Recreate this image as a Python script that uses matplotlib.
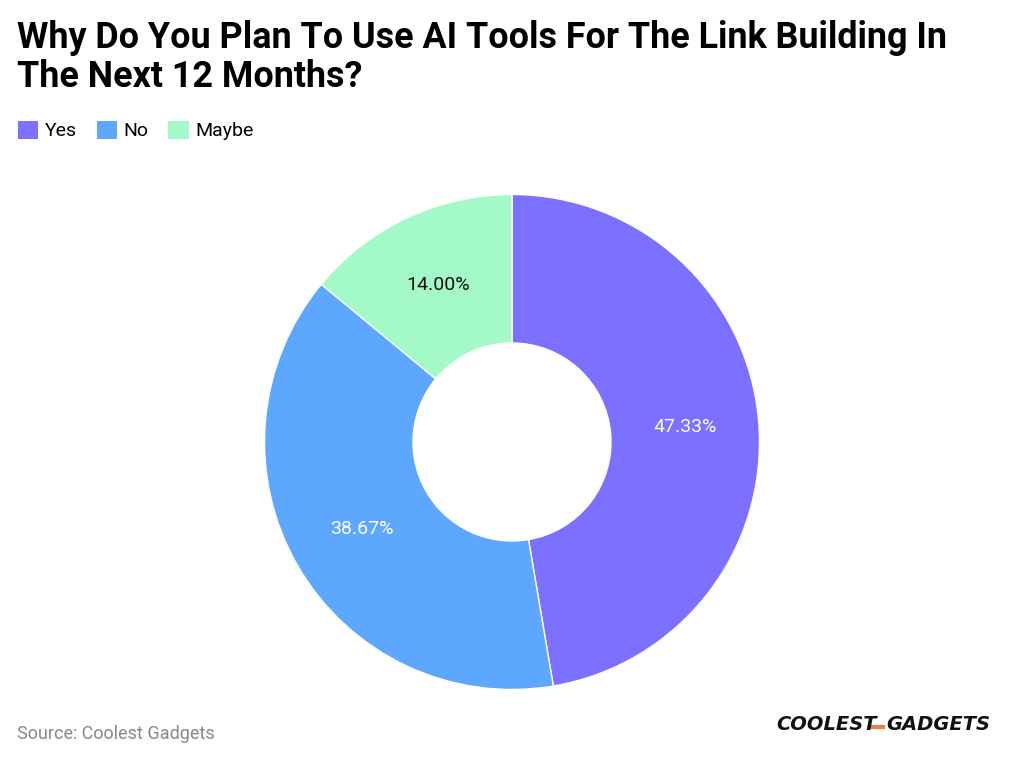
import matplotlib.pyplot as plt
from matplotlib.lines import Line2D
from matplotlib.patches import Patch

labels = ['Yes', 'No', 'Maybe']
values = [47.33, 38.67, 14.00]
colors = ['#7B70FF', '#5EA7FF', '#A3FAC8']
label_colors = ['white', 'white', '#111111']

plt.rcParams['font.family'] = ['Roboto', 'DejaVu Sans']

fig = plt.figure(figsize=(10.24, 7.6), dpi=100)

# donut, centre at (512, 442) px from top-left, radius ~247 px
ax = fig.add_axes([(512 - 250) / 1024, (318 - 250) / 760, 500 / 1024, 500 / 760])
wedges, texts, autotexts = ax.pie(
    values, colors=colors, startangle=90, counterclock=False,
    autopct='%.2f%%', pctdistance=0.70,
    wedgeprops=dict(width=0.6, edgecolor='white', linewidth=1),
    textprops=dict(fontsize=14),
)
for t, c in zip(autotexts, label_colors):
    t.set_color(c)
ax.set_xlim(-250 / 247.5, 250 / 247.5)
ax.set_ylim(-250 / 247.5, 250 / 247.5)
ax.set_aspect('equal')
ax.axis('off')

fig.text(17 / 1024, 1 - 20 / 760,
         'Why Do You Plan To Use AI Tools For The Link Building In\nThe Next 12 Months?',
         fontsize=25.8, fontweight='bold', va='top', ha='left', linespacing=1.12)

handles = [Patch(facecolor=c, edgecolor='none') for c in colors]
fig.legend(handles, labels, loc='upper left', bbox_to_anchor=(10 / 1024, 1 - 113 / 760),
           ncol=3, frameon=False, fontsize=14, handlelength=1.05, handleheight=1.05,
           handletextpad=0.35, columnspacing=1.0, borderaxespad=0)

fig.text(17 / 1024, 1 - 734 / 760, 'Source: Coolest Gadgets', fontsize=13,
         color='#888888', va='center', ha='left')

# logo
fig.text(776 / 1024, 1 - 725 / 760, 'COOLEST', fontsize=14, fontweight='heavy',
         style='italic', family='DejaVu Sans', color='#111111', va='center', ha='left')
fig.add_artist(Line2D([872 / 1024, 883 / 1024], [1 - 727 / 760, 1 - 727 / 760],
                      transform=fig.transFigure, color='#E8804A', linewidth=3))
fig.text(886 / 1024, 1 - 725 / 760, 'GADGETS', fontsize=14, fontweight='heavy',
         style='italic', family='DejaVu Sans', color='#111111', va='center', ha='left')

fig.savefig('out.png', dpi=100)
